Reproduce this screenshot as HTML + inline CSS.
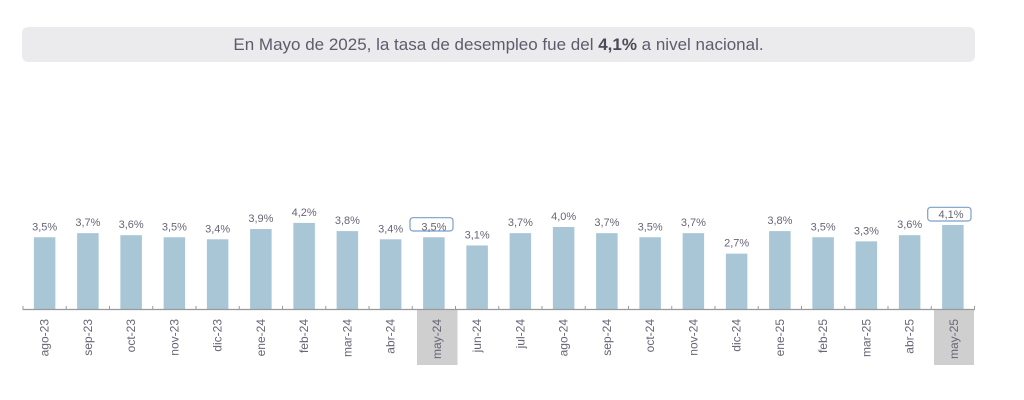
<!DOCTYPE html>
<html>
<head>
<meta charset="utf-8">
<style>
  html,body{margin:0;padding:0;background:#ffffff;}
  body{width:1024px;height:400px;position:relative;overflow:hidden;font-family:"Liberation Sans",sans-serif;}
  .title{position:absolute;left:22px;top:27px;width:953px;height:35px;background:#ebebee;border-radius:6px;
    text-align:center;line-height:35px;font-size:17px;color:#5c5c6c;white-space:nowrap;}
  .title b{color:#4a4a58;}
  svg{position:absolute;left:0;top:0;}
  .v{font-family:"Liberation Sans",sans-serif;font-size:11px;fill:#666676;text-anchor:middle;}
  .c{font-family:"Liberation Sans",sans-serif;font-size:12px;fill:#666676;text-anchor:end;}
</style>
</head>
<body>
<div class="title">En Mayo de 2025, la tasa de desempleo fue del <b>4,1%</b> a nivel nacional.</div>
<svg width="1024" height="400" viewBox="0 0 1024 400">
  <!-- highlight boxes under category labels -->
  <rect x="417" y="310" width="40.5" height="55" fill="#d0cfcf"/>
  <rect x="934" y="310" width="40" height="55" fill="#d0cfcf"/>

  <!-- bars -->
  <g fill="#a8c6d5">
    <rect x="33.875" y="237.25" width="21.5" height="71.75"/>
    <rect x="77.125" y="233.15" width="21.5" height="75.85"/>
    <rect x="120.375" y="235.2" width="21.5" height="73.8"/>
    <rect x="163.625" y="237.25" width="21.5" height="71.75"/>
    <rect x="206.875" y="239.3" width="21.5" height="69.7"/>
    <rect x="250.125" y="229.05" width="21.5" height="79.95"/>
    <rect x="293.375" y="222.9" width="21.5" height="86.1"/>
    <rect x="336.625" y="231.1" width="21.5" height="77.9"/>
    <rect x="379.875" y="239.3" width="21.5" height="69.7"/>
    <rect x="423.125" y="237.25" width="21.5" height="71.75"/>
    <rect x="466.375" y="245.45" width="21.5" height="63.55"/>
    <rect x="509.625" y="233.15" width="21.5" height="75.85"/>
    <rect x="552.875" y="227" width="21.5" height="82"/>
    <rect x="596.125" y="233.15" width="21.5" height="75.85"/>
    <rect x="639.375" y="237.25" width="21.5" height="71.75"/>
    <rect x="682.625" y="233.15" width="21.5" height="75.85"/>
    <rect x="725.875" y="253.65" width="21.5" height="55.35"/>
    <rect x="769.125" y="231.1" width="21.5" height="77.9"/>
    <rect x="812.375" y="237.25" width="21.5" height="71.75"/>
    <rect x="855.625" y="241.35" width="21.5" height="67.65"/>
    <rect x="898.875" y="235.2" width="21.5" height="73.8"/>
    <rect x="942.125" y="224.95" width="21.5" height="84.05"/>
  </g>

  <!-- axis -->
  <line x1="23" y1="309.5" x2="975" y2="309.5" stroke="#9a9a9a" stroke-width="1.3"/>
  <g stroke="#9a9a9a" stroke-width="1">
    <line x1="23" y1="306" x2="23" y2="310"/>
    <line x1="66.25" y1="306" x2="66.25" y2="310"/>
    <line x1="109.5" y1="306" x2="109.5" y2="310"/>
    <line x1="152.75" y1="306" x2="152.75" y2="310"/>
    <line x1="196" y1="306" x2="196" y2="310"/>
    <line x1="239.25" y1="306" x2="239.25" y2="310"/>
    <line x1="282.5" y1="306" x2="282.5" y2="310"/>
    <line x1="325.75" y1="306" x2="325.75" y2="310"/>
    <line x1="369" y1="306" x2="369" y2="310"/>
    <line x1="412.25" y1="306" x2="412.25" y2="310"/>
    <line x1="455.5" y1="306" x2="455.5" y2="310"/>
    <line x1="498.75" y1="306" x2="498.75" y2="310"/>
    <line x1="542" y1="306" x2="542" y2="310"/>
    <line x1="585.25" y1="306" x2="585.25" y2="310"/>
    <line x1="628.5" y1="306" x2="628.5" y2="310"/>
    <line x1="671.75" y1="306" x2="671.75" y2="310"/>
    <line x1="715" y1="306" x2="715" y2="310"/>
    <line x1="758.25" y1="306" x2="758.25" y2="310"/>
    <line x1="801.5" y1="306" x2="801.5" y2="310"/>
    <line x1="844.75" y1="306" x2="844.75" y2="310"/>
    <line x1="888" y1="306" x2="888" y2="310"/>
    <line x1="931.25" y1="306" x2="931.25" y2="310"/>
    <line x1="974.5" y1="306" x2="974.5" y2="310"/>
  </g>

  <!-- highlighted value boxes -->
  <rect x="410" y="217.7" width="43" height="13.3" rx="3" fill="#ffffff" stroke="#7b9fcc" stroke-width="1.2"/>
  <rect x="927.7" y="207.3" width="43.3" height="13.7" rx="3" fill="#ffffff" stroke="#7b9fcc" stroke-width="1.2"/>

  <!-- value labels -->
  <text class="v" x="44.625" y="230.25">3,5%</text>
  <text class="v" x="87.875" y="226.15">3,7%</text>
  <text class="v" x="131.125" y="228.2">3,6%</text>
  <text class="v" x="174.375" y="230.25">3,5%</text>
  <text class="v" x="217.625" y="232.3">3,4%</text>
  <text class="v" x="260.875" y="222.05">3,9%</text>
  <text class="v" x="304.125" y="215.9">4,2%</text>
  <text class="v" x="347.375" y="224.1">3,8%</text>
  <text class="v" x="390.625" y="232.3">3,4%</text>
  <text class="v" x="433.875" y="230.25">3,5%</text>
  <text class="v" x="477.125" y="238.45">3,1%</text>
  <text class="v" x="520.375" y="226.15">3,7%</text>
  <text class="v" x="563.625" y="220">4,0%</text>
  <text class="v" x="606.875" y="226.15">3,7%</text>
  <text class="v" x="650.125" y="230.25">3,5%</text>
  <text class="v" x="693.375" y="226.15">3,7%</text>
  <text class="v" x="736.625" y="246.65">2,7%</text>
  <text class="v" x="779.875" y="224.1">3,8%</text>
  <text class="v" x="823.125" y="230.25">3,5%</text>
  <text class="v" x="866.375" y="234.35">3,3%</text>
  <text class="v" x="909.625" y="228.2">3,6%</text>
  <text class="v" x="951" y="217.95">4,1%</text>

  <!-- category labels -->
  <text class="c" transform="translate(48.6,319) rotate(-90)">ago-23</text>
  <text class="c" transform="translate(91.9,319) rotate(-90)">sep-23</text>
  <text class="c" transform="translate(135.1,319) rotate(-90)">oct-23</text>
  <text class="c" transform="translate(178.4,319) rotate(-90)">nov-23</text>
  <text class="c" transform="translate(221.6,319) rotate(-90)">dic-23</text>
  <text class="c" transform="translate(264.9,319) rotate(-90)">ene-24</text>
  <text class="c" transform="translate(308.1,319) rotate(-90)">feb-24</text>
  <text class="c" transform="translate(351.4,319) rotate(-90)">mar-24</text>
  <text class="c" transform="translate(394.6,319) rotate(-90)">abr-24</text>
  <text class="c" transform="translate(441,319) rotate(-90)">may-24</text>
  <text class="c" transform="translate(481.1,319) rotate(-90)">jun-24</text>
  <text class="c" transform="translate(524.4,319) rotate(-90)">jul-24</text>
  <text class="c" transform="translate(567.6,319) rotate(-90)">ago-24</text>
  <text class="c" transform="translate(610.9,319) rotate(-90)">sep-24</text>
  <text class="c" transform="translate(654.1,319) rotate(-90)">oct-24</text>
  <text class="c" transform="translate(697.4,319) rotate(-90)">nov-24</text>
  <text class="c" transform="translate(740.6,319) rotate(-90)">dic-24</text>
  <text class="c" transform="translate(783.9,319) rotate(-90)">ene-25</text>
  <text class="c" transform="translate(827.1,319) rotate(-90)">feb-25</text>
  <text class="c" transform="translate(870.4,319) rotate(-90)">mar-25</text>
  <text class="c" transform="translate(913.6,319) rotate(-90)">abr-25</text>
  <text class="c" transform="translate(958,319) rotate(-90)">may-25</text>
</svg>
</body>
</html>
